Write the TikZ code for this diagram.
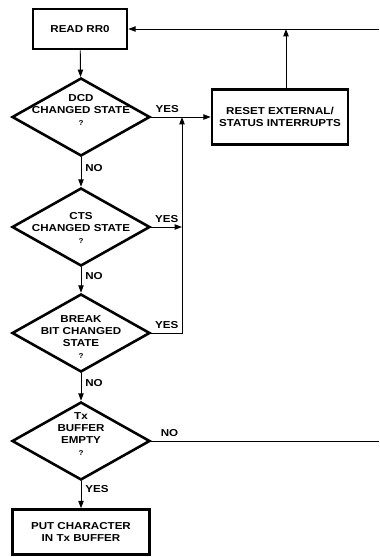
\documentclass[tikz,border=0pt]{standalone}
\usepackage{fontspec}
\newfontfamily\chartfont[FakeStretch=1.15]{Liberation Sans}
\usetikzlibrary{positioning, arrows.meta, calc, shapes.geometric}

\begin{document}
\begin{tikzpicture}[x=0.03cm, y=-0.03cm, >={Triangle[length=2.2mm, width=1.6mm]},
    every node/.style={align=center, font=\chartfont\bfseries\fontsize{8.6}{10.5}\selectfont},
    box/.style={draw, line width=2.2pt, inner sep=0pt},
    test/.style={draw, diamond, line width=2.2pt, inner sep=0pt, minimum width=4.14cm, minimum height=2.34cm},
    flow/.style={line width=0.8pt}]
    \useasboundingbox (0,0) rectangle (379,557);
    % Read status register
    \node[box, minimum width=2.82cm, minimum height=1.2cm] (read) at (80,29) {READ RR0};
    % Decisions (shape first, text on top)
    \node[test] (dcd) at (81,117) {};
    \node[test] (cts) at (81,227) {};
    \node[test] (brk) at (81,333) {};
    \node[test] (tx) at (81,441) {};
    \node (dcdtext) at (81,110) {DCD\\CHANGED STATE\\{\fontsize{6}{6}\selectfont ?}};
    \node (ctstext) at (81,228) {CTS\\CHANGED STATE\\{\fontsize{6}{6}\selectfont ?}};
    \node (brktext) at (81,337) {BREAK\\BIT CHANGED\\STATE\\{\fontsize{6}{6}\selectfont ?}};
    \node (txtext) at (81,434) {Tx\\BUFFER\\EMPTY\\{\fontsize{6}{6}\selectfont ?}};
    % Right box
    \node[box, minimum width=4.08cm, minimum height=1.65cm] (reset) at (280,117) {RESET EXTERNAL/\\STATUS INTERRUPTS};
    % Bottom box
    \node[box, minimum width=4.11cm, minimum height=1.35cm] (put) at (81,532) {PUT CHARACTER\\IN Tx BUFFER};
    % Loose ends
    \coordinate (loopin) at (379,29);
    \coordinate (loopout) at (379,441);
    \coordinate (up) at (286,29);
    \coordinate (join) at (182,117);
    % Arrows
    \draw[flow, ->] (read) -- (dcd);
    \draw[flow, ->] (dcd) -- (cts) node[right, pos=0.35] {NO};
    \draw[flow, ->] (cts) -- (brk) node[right, pos=0.35] {NO};
    \draw[flow, ->] (brk) -- (tx) node[right, pos=0.35] {NO};
    \draw[flow, ->] (tx) -- (put) node[right, pos=0.3] {YES};
    \draw[flow, ->] (dcd.east) -- (reset.west) node[above, pos=0.27] {YES};
    \draw[flow, ->] (cts.east) -- (cts.east -| join) node[midway, above] {YES};
    \draw[flow, ->] (brk.east) -- (brk.east -| join) node[midway, above] {YES} -- (join);
    \draw[flow, ->] (reset.north -| up) -- (up);
    \draw[flow, ->] (loopin) -- (read.east);
    \draw[flow] (tx.east) -- (loopout) node[above, pos=0.08] {NO};
\end{tikzpicture}
\end{document}
